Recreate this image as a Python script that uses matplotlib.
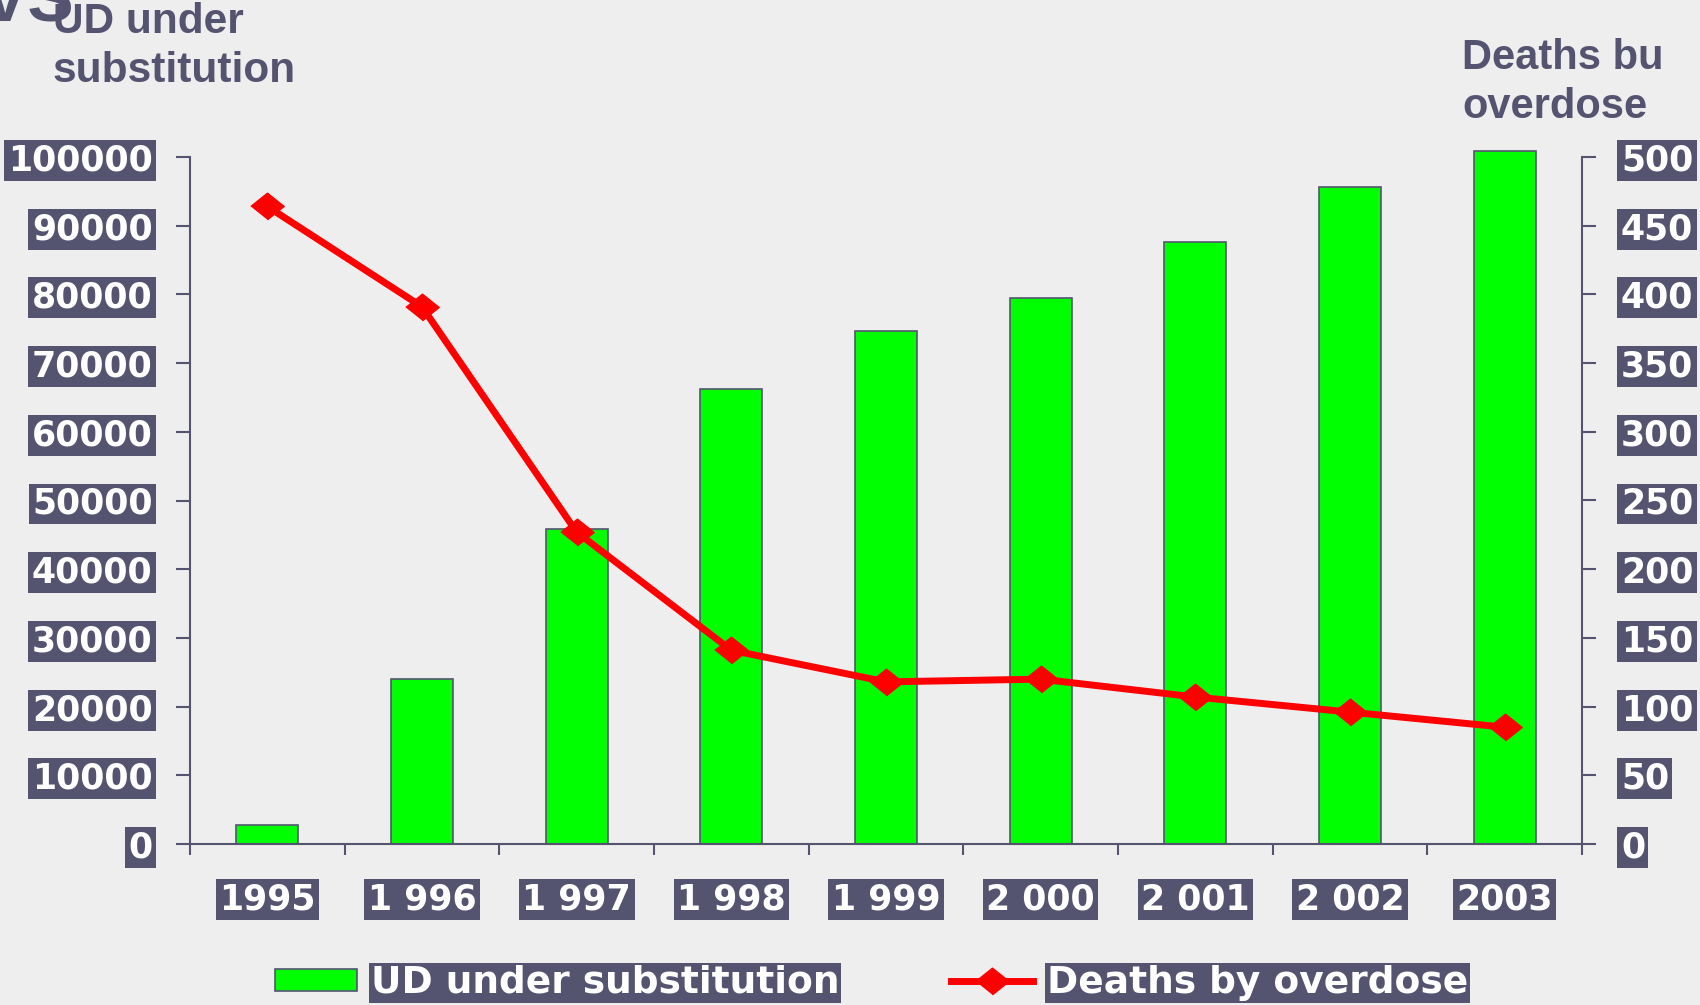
import matplotlib.pyplot as plt

plt.rcParams['font.family'] = ['DejaVu Sans']
plt.rcParams['font.weight'] = 'bold'

years = ['1995', '1 996', '1 997', '1 998', '1 999', '2 000', '2 001', '2 002', '2003']
ud_substitution = [2800, 24000, 45800, 66200, 74700, 79500, 87700, 95600, 100900]
deaths_overdose = [464, 391, 227, 141, 118, 120, 107, 96, 85]

left_ticks = list(range(0, 100001, 10000))
right_ticks = list(range(0, 501, 50))

slate = '#545470'
bg = '#eeeeee'

W, H = 1700, 1005
fig = plt.figure(figsize=(W / 100, H / 100), dpi=100, facecolor=bg)
ax = fig.add_axes([190 / W, 1 - 844 / H, (1582 - 190) / W, (844 - 157) / H])
ax.set_facecolor('none')
ax2 = ax.twinx()

x = list(range(len(years)))
ax.bar(x, ud_substitution, width=0.4, color='#00ff00', edgecolor=slate,
       linewidth=1.2, clip_on=False, label='UD under substitution', zorder=2)

diamond = [(-1.25, 0), (0, 1), (1.25, 0), (0, -1)]
ax2.plot(x, deaths_overdose, color='#ff0000', lw=5, marker=diamond, ms=24,
         mec='#ff0000', mfc='#ff0000', label='Deaths by overdose',
         clip_on=False, solid_joinstyle='round')

ax.set_xlim(-0.5, len(years) - 0.5)
ax.set_ylim(0, 100000)
ax2.set_ylim(0, 500)

for s in ['top', 'right']:
    ax.spines[s].set_visible(False)
for s in ['top', 'left', 'bottom']:
    ax2.spines[s].set_visible(False)
for sp in [ax.spines['left'], ax.spines['bottom'], ax2.spines['right']]:
    sp.set_color(slate)
    sp.set_linewidth(1.5)

ax.set_xticks(x, years)
ax.set_xticks([i - 0.5 for i in range(len(years) + 1)], minor=True)
ax.tick_params(axis='x', which='major', length=0, pad=28, labelsize=25, labelcolor='white')
ax.tick_params(axis='x', which='minor', length=8, width=1.5, color=slate)

ax.set_yticks(left_ticks, [str(v) for v in left_ticks])
ax.tick_params(axis='y', length=10, width=1.5, color=slate, pad=17,
               labelsize=25, labelcolor='white')
ax2.set_yticks(right_ticks, [str(v) for v in right_ticks])
ax2.tick_params(axis='y', length=10, width=1.5, color=slate, pad=18,
                labelsize=25, labelcolor='white')

box = dict(facecolor=slate, edgecolor='none', boxstyle='square,pad=0.1')
for lab in ax.get_xticklabels() + ax.get_yticklabels() + ax2.get_yticklabels():
    lab.set_fontweight('bold')
    lab.set_bbox(box)

h1, l1 = ax.get_legend_handles_labels()
h2, l2 = ax2.get_legend_handles_labels()
leg = fig.legend(h1 + h2, l1 + l2, loc='center', bbox_to_anchor=(0.5126, 0.022),
                 ncol=2, frameon=False, prop={'size': 27, 'weight': 'bold'},
                 handlelength=2.2, handleheight=0.53, handletextpad=0.37,
                 columnspacing=2.96)
for t in leg.get_texts():
    t.set_color('white')
    t.set_bbox(dict(facecolor=slate, edgecolor='none', boxstyle='square,pad=0.05'))

# cut-off slide title remnant at the top-left corner
fig.text(-18 / W, 1 - 21 / H, 'VS', fontsize=50, family='Liberation Sans',
         weight='bold', color=slate, va='baseline')
# axis captions (baseline of the last line)
fig.text(53 / W, 1 - 82 / H, 'UD under\nsubstitution', fontsize=30.5,
         family='Liberation Sans', weight='bold', color=slate,
         va='baseline', linespacing=1.3)
fig.text(1462 / W, 1 - 118 / H, 'Deaths bu\noverdose', fontsize=30,
         family='Liberation Sans', weight='bold', color=slate,
         va='baseline', linespacing=1.3)

fig.savefig('out.png', dpi=100, facecolor=bg)
